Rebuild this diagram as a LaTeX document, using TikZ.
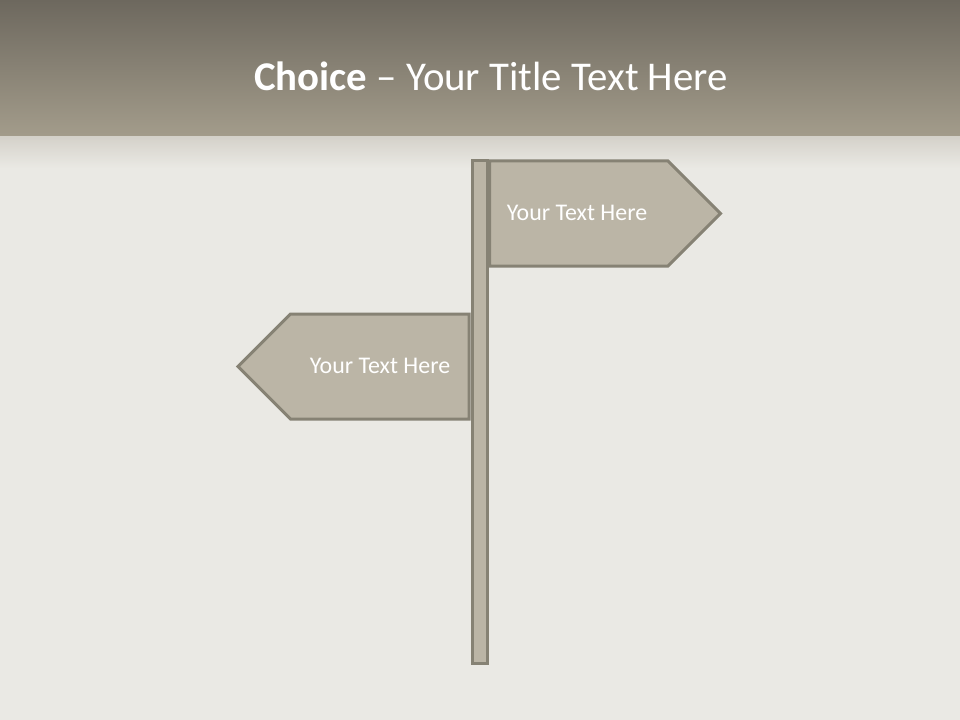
\documentclass[tikz,border=0pt]{standalone}
\usepackage{fontspec}
\setmainfont{Carlito}
\usetikzlibrary{shapes.symbols}

\definecolor{barTop}{HTML}{6D685E}
\definecolor{barBottom}{HTML}{A39C8B}
\definecolor{canvas}{HTML}{EAE9E4}
\definecolor{bandDark}{HTML}{D4D1C9}
\definecolor{signFill}{HTML}{BBB5A6}
\definecolor{signLine}{HTML}{868274}

\begin{document}
\begin{tikzpicture}[x=1bp, y=-1bp,
    sign/.style={signal, draw=signLine, fill=signFill, line width=3bp, inner sep=0pt,
                 minimum width=231bp, minimum height=105bp},
    signtext/.style={text=white, font=\fontsize{24}{28}\selectfont}]
  \useasboundingbox (0,0) rectangle (960,720);

  % backdrop and title bar
  \fill[canvas] (0,0) rectangle (960,720);
  \shade[top color=bandDark, bottom color=canvas] (0,136) rectangle (960,168);
  \shade[top color=barTop, bottom color=barBottom] (0,0) rectangle (960,136);
  \node[text=white, font=\fontsize{41}{47}\selectfont] (title) at (491,76)
       {\textbf{Choice} -- Your Title Text Here};

  % the two signs
  \node[sign, signal to=east, anchor=west] (right) at (488,213.5) {};
  \node[signtext] (righttext) at (577,213) {Your Text Here};

  \node[sign, signal to=west, anchor=east] (left) at (470.5,366.5) {};
  \node[signtext] (lefttext) at (380,366) {Your Text Here};

  % the pole
  \node[draw=signLine, fill=signFill, line width=3bp, inner sep=0pt,
        minimum width=15bp, minimum height=503bp] (pole) at (479.5,412) {};
\end{tikzpicture}
\end{document}
